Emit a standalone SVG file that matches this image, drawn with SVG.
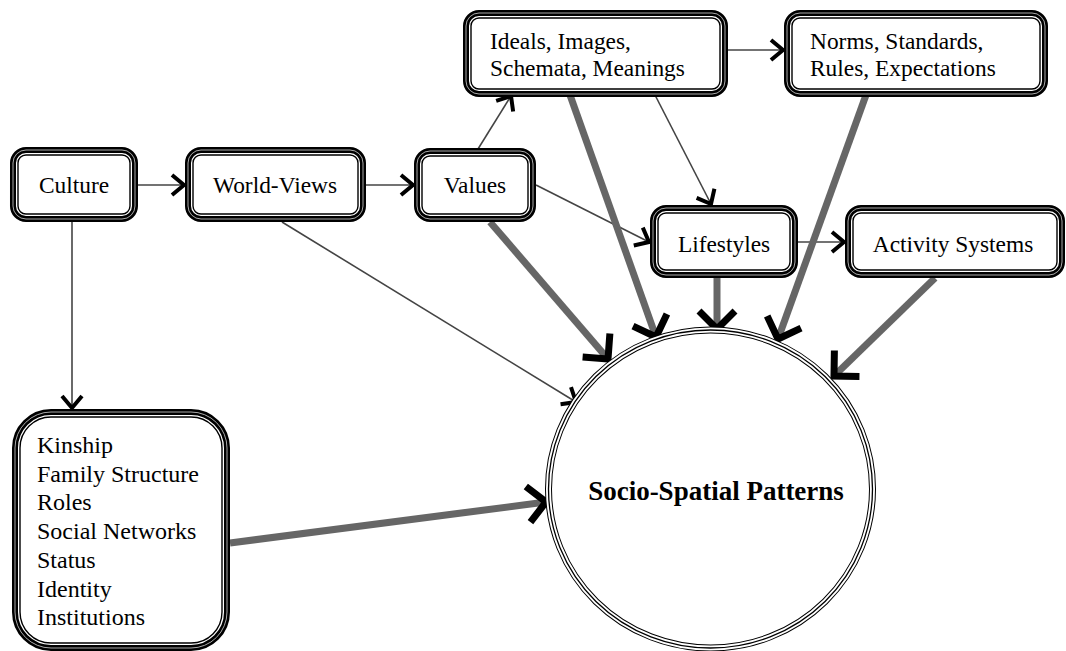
<svg xmlns="http://www.w3.org/2000/svg" width="1066" height="651" viewBox="0 0 1066 651">
<defs>
<style>
.b1{fill:#fff;stroke:#000;stroke-width:6}
.b2{fill:none;stroke:#aaa;stroke-width:1}
.b3{fill:none;stroke:#000;stroke-width:1.4}
text{font-family:"Liberation Serif","Times New Roman",serif;font-size:23.4px;fill:#000}
.c{text-anchor:middle}
.k{font-size:24px}
.thin{fill:none;stroke:#444;stroke-width:1.6;marker-end:url(#ah1)}
.thick{fill:none;stroke:#666;stroke-width:7;marker-end:url(#ah2)}
</style>
<marker id="ah1" viewBox="-30 -30 40 60" markerWidth="40" markerHeight="60" refX="0" refY="0" markerUnits="userSpaceOnUse" orient="auto">
<path d="M-12,-10 L0,0 L-12,10" fill="none" stroke="#000" stroke-width="4"/>
</marker>
<marker id="ah2" viewBox="-30 -30 40 60" markerWidth="40" markerHeight="60" refX="0" refY="0" markerUnits="userSpaceOnUse" orient="auto">
<path d="M-18,-18 L0,0 L-18,18" fill="none" stroke="#000" stroke-width="7"/>
</marker>
</defs>
<rect width="1066" height="651" fill="#fff"/>
<g id="connectors">
<line class="thin" x1="138" y1="185" x2="184" y2="185"/>
<line class="thin" x1="366" y1="185" x2="413" y2="185"/>
<line class="thin" x1="478" y1="149" x2="511" y2="96"/>
<line class="thin" x1="728" y1="50" x2="783" y2="50"/>
<line class="thin" x1="536" y1="185" x2="649" y2="242"/>
<line class="thin" x1="655" y1="95" x2="711" y2="204"/>
<line class="thin" x1="798" y1="242" x2="844" y2="242"/>
<line class="thin" x1="72" y1="222" x2="72" y2="408"/>
<line class="thin" x1="282" y1="222" x2="576" y2="402"/>
<line class="thick" x1="490" y1="222" x2="608" y2="359"/>
<line class="thick" x1="570" y1="95" x2="656" y2="337"/>
<line class="thick" x1="717" y1="278" x2="717" y2="329"/>
<line class="thick" x1="866" y1="95" x2="778" y2="339"/>
<line class="thick" x1="935" y1="278" x2="834" y2="376"/>
<line class="thick" x1="230" y1="543" x2="546" y2="502"/>
</g>
<g id="culture">
<rect class="b1" x="13" y="150" width="122" height="69" rx="13"/>
<rect class="b2" x="13" y="150" width="122" height="69" rx="13"/>
<rect class="b3" x="18" y="155" width="112" height="59" rx="8"/>
<text class="c" x="74" y="193">Culture</text>
</g>
<g id="worldviews">
<rect class="b1" x="188" y="150" width="175" height="69" rx="13"/>
<rect class="b2" x="188" y="150" width="175" height="69" rx="13"/>
<rect class="b3" x="193" y="155" width="165" height="59" rx="8"/>
<text class="c" x="275" y="193">World-Views</text>
</g>
<g id="values">
<rect class="b1" x="417" y="151" width="116" height="68" rx="13"/>
<rect class="b2" x="417" y="151" width="116" height="68" rx="13"/>
<rect class="b3" x="422" y="156" width="106" height="58" rx="8"/>
<text class="c" x="475" y="193">Values</text>
</g>
<g id="ideals">
<rect class="b1" x="466" y="13" width="259" height="81" rx="13"/>
<rect class="b2" x="466" y="13" width="259" height="81" rx="13"/>
<rect class="b3" x="471" y="18" width="249" height="71" rx="8"/>
<text x="490" y="49">Ideals, Images,</text>
<text x="490" y="76">Schemata, Meanings</text>
</g>
<g id="norms">
<rect class="b1" x="787" y="13" width="258" height="81" rx="13"/>
<rect class="b2" x="787" y="13" width="258" height="81" rx="13"/>
<rect class="b3" x="792" y="18" width="248" height="71" rx="8"/>
<text x="810" y="49">Norms, Standards,</text>
<text x="810" y="76">Rules, Expectations</text>
</g>
<g id="lifestyles">
<rect class="b1" x="653" y="208" width="142" height="67" rx="13"/>
<rect class="b2" x="653" y="208" width="142" height="67" rx="13"/>
<rect class="b3" x="658" y="213" width="132" height="57" rx="8"/>
<text class="c" x="724" y="252">Lifestyles</text>
</g>
<g id="activity">
<rect class="b1" x="848" y="208" width="214" height="67" rx="13"/>
<rect class="b2" x="848" y="208" width="214" height="67" rx="13"/>
<rect class="b3" x="853" y="213" width="204" height="57" rx="8"/>
<text class="c" x="953" y="252">Activity Systems</text>
</g>
<g id="kinship">
<rect class="b1" x="15" y="412" width="212" height="236" rx="36"/>
<rect class="b2" x="15" y="412" width="212" height="236" rx="36"/>
<rect class="b3" x="20" y="417" width="202" height="226" rx="31"/>
<text class="k" x="37" y="453">Kinship</text>
<text class="k" x="37" y="482">Family Structure</text>
<text class="k" x="37" y="510">Roles</text>
<text class="k" x="37" y="539">Social Networks</text>
<text class="k" x="37" y="568">Status</text>
<text class="k" x="37" y="597">Identity</text>
<text class="k" x="37" y="625">Institutions</text>
</g>
<g id="socio-spatial">
<ellipse cx="710.5" cy="489" rx="162" ry="159" fill="#fff" stroke="#000" stroke-width="7"/>
<ellipse cx="710.5" cy="489" rx="162" ry="159" fill="none" stroke="#fff" stroke-width="5"/>
<ellipse cx="710.5" cy="489" rx="162" ry="159" fill="none" stroke="#000" stroke-width="1.3"/>
<text class="c" x="716" y="500" font-weight="bold" style="font-size:27px">Socio-Spatial Patterns</text>
</g>
</svg>
